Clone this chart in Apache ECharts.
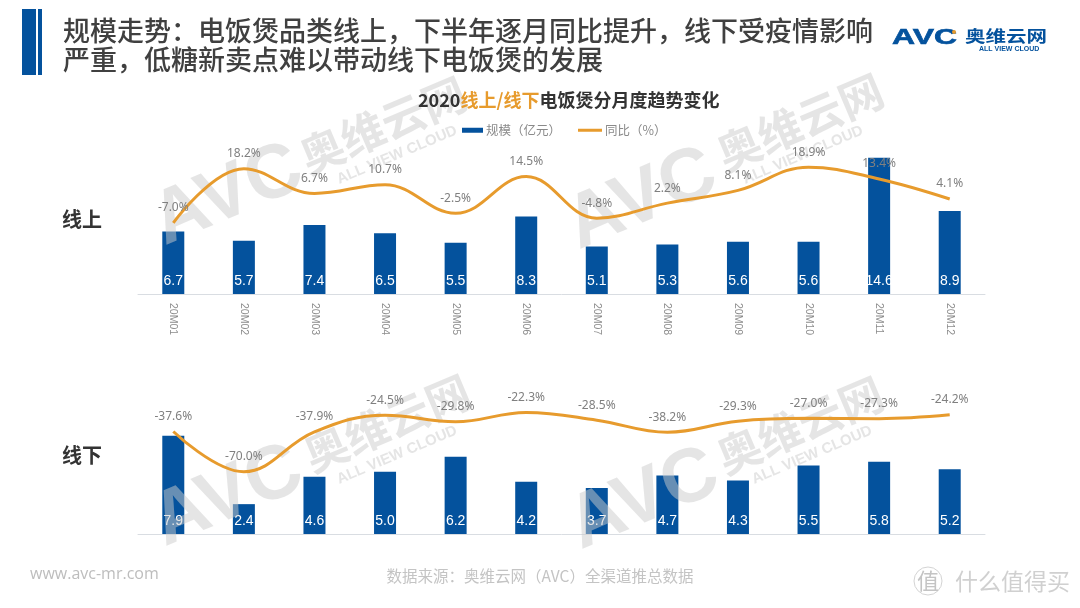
<!DOCTYPE html>
<html><head><meta charset="utf-8">
<style>html,body{margin:0;padding:0;background:#fff}#c{width:1080px;height:608px}</style>
<script src="https://cdn.jsdelivr.net/npm/echarts@6/dist/echarts.min.js"></script>
</head><body><div id="c"></div>
<script>
const months = ['20M01','20M02','20M03','20M04','20M05','20M06','20M07','20M08','20M09','20M10','20M11','20M12'];
const onlineScale = [6.7,5.7,7.4,6.5,5.5,8.3,5.1,5.3,5.6,5.6,14.6,8.9];
const onlineYoy = [-7.0,18.2,6.7,10.7,-2.5,14.5,-4.8,2.2,8.1,18.9,13.4,4.1];
const offlineScale = [7.9,2.4,4.6,5.0,6.2,4.2,3.7,4.7,4.3,5.5,5.8,5.2];
const offlineYoy = [-37.6,-70.0,-37.9,-24.5,-29.8,-22.3,-28.5,-38.2,-29.3,-27.0,-27.3,-24.2];
const scaleName = '规模（亿元）', yoyName = '同比（%）';

const BLUE='#04529d', ORANGE='#e79b2d', CJK='"Noto Sans CJK SC","Noto Sans",sans-serif';
function mark(cx,cy,cx2,cy2,cx3,cy3){
  const r=0.40, s={fill:'#cccccc',opacity:.5,align:'center',verticalAlign:'middle'};
  return [
   {type:'text',z:3,x:cx,y:cy,rotation:r,style:{...s,text:'AVC',font:'bold 76px "Liberation Sans"'}},
   {type:'text',z:3,x:cx2,y:cy2,rotation:r,style:{...s,text:'奥维云网',font:'bold 44px '+CJK}},
   {type:'text',z:3,x:cx3,y:cy3,rotation:r,style:{...s,text:'ALL VIEW CLOUD',font:'bold 15px "Liberation Sans"'}}
  ];
}
const graphics=[
 {type:'rect',shape:{x:22,y:9,width:14,height:66},style:{fill:BLUE}},
 {type:'rect',shape:{x:38,y:9,width:4,height:66},style:{fill:BLUE}},
 {type:'text',x:63,y:31,style:{text:'规模走势：电饭煲品类线上，下半年逐月同比提升，线下受疫情影响',font:'500 27px '+CJK,fill:'#404040',verticalAlign:'middle'}},
 {type:'text',x:63,y:60,style:{text:'严重，低糖新卖点难以带动线下电饭煲的发展',font:'500 27px '+CJK,fill:'#404040',verticalAlign:'middle'}},
 {type:'text',x:892,y:38,scaleX:1.45,style:{text:'AVC',font:'bold 22px "Liberation Sans"',fill:BLUE,stroke:BLUE,lineWidth:.6,verticalAlign:'middle'}},
 {type:'circle',shape:{cx:954,cy:32,r:2},style:{fill:ORANGE}},
 {type:'text',x:965,y:36,scaleY:.75,style:{text:'奥维云网',font:'bold 20.5px '+CJK,fill:BLUE,verticalAlign:'middle'}},
 {type:'text',x:979,y:49,style:{text:'ALL VIEW CLOUD',font:'bold 7px "Liberation Sans"',fill:BLUE,verticalAlign:'middle'}},
 {type:'text',x:62,y:219,style:{text:'线上',font:'bold 20px '+CJK,fill:'#333',verticalAlign:'middle'}},
 {type:'text',x:62,y:455,style:{text:'线下',font:'bold 20px '+CJK,fill:'#333',verticalAlign:'middle'}},
 {type:'text',x:30,y:574,style:{text:'www.avc-mr.com',font:'16px "Open Sans"',fill:'#bdbdbd',verticalAlign:'middle'}},
 {type:'text',x:540,y:576,style:{text:'数据来源：奥维云网（AVC）全渠道推总数据',font:'15.5px '+CJK,fill:'#c4c4c4',align:'center',verticalAlign:'middle'}},
 {type:'circle',shape:{cx:928,cy:581,r:14},style:{fill:'none',stroke:'#d4d4d4',lineWidth:1}},
 {type:'text',x:928,y:581,style:{text:'值',font:'22px '+CJK,fill:'#c4c4c4',align:'center',verticalAlign:'middle'}},
 {type:'text',x:955,y:581,style:{text:'什么值得买',font:'23px '+CJK,fill:'#d0d0d0',verticalAlign:'middle'}},
 ...mark(228,196,383,125,397,155),
 ...mark(642,200,800,122,803,155),
 ...mark(228,497,387,423,397,455),
 ...mark(644,500,800,425,812,455)
];
function barSeries(data,i){return {name:scaleName,type:'bar',xAxisIndex:i,yAxisIndex:i*2,data,barWidth:22,z:2,itemStyle:{color:BLUE},
  label:{show:true,position:'insideBottom',distance:6,color:'#fff',fontSize:14,fontFamily:'"Liberation Sans"',formatter:p=>p.value.toFixed(1)}};}
function lineSeries(data,i){return {name:yoyName,type:'line',xAxisIndex:i,yAxisIndex:i*2+1,data,smooth:.4,symbol:'circle',symbolSize:0,showAllSymbol:true,z:4,
  lineStyle:{color:ORANGE,width:3},itemStyle:{color:ORANGE},
  label:{show:true,position:'top',distance:9,color:'#808080',fontSize:12,fontFamily:'"Noto Sans"',formatter:p=>p.value.toFixed(1)+'%'}};}
function yAxis(g,min,max){return {type:'value',gridIndex:g,min,max,show:false,splitLine:{show:false}};}
const legendText={fontSize:12.5,color:'#8a8a8a',fontFamily:CJK,padding:[0,0,0,-2]};
const chart=echarts.init(document.getElementById('c'),null,{renderer:'canvas'});
chart.setOption({
 animation:false,backgroundColor:'#fff',
 title:{left:418,top:91,padding:0,text:'{a|2020}{b|线上/线下}{a|电饭煲分月度趋势变化}',textStyle:{rich:{
   a:{fontSize:18,fontWeight:'bold',color:'#333',fontFamily:CJK},b:{fontSize:18,fontWeight:'bold',color:ORANGE,fontFamily:CJK}}}},
 legend:[
  {left:462,top:124,padding:0,itemWidth:21,itemHeight:5,selectedMode:false,textStyle:legendText,data:[{name:scaleName,icon:'rect'}]},
  {left:578,top:124,padding:0,itemWidth:24,itemHeight:3,selectedMode:false,textStyle:legendText,data:[{name:yoyName,icon:'rect'}]}
 ],
 grid:[{left:138,right:95,top:154,height:140},{left:138,right:95,top:409.6,height:124.4}],
 xAxis:[0,1].map(g=>({type:'category',gridIndex:g,data:months,
   axisLine:{lineStyle:{color:'#d9dde2',width:1}},axisTick:{show:false},
   axisLabel:g===0?{show:true,rotate:-90,color:'#8c8c8c',fontSize:10.5,margin:9,fontFamily:'"Liberation Sans"'}:{show:false}})),
 yAxis:[yAxis(0,0,15),yAxis(0,-40,25),yAxis(1,0,10),yAxis(1,-120,-20)],
 series:[barSeries(onlineScale,0),lineSeries(onlineYoy,0),barSeries(offlineScale,1),lineSeries(offlineYoy,1)],
 graphic:graphics
});
</script></body></html>
